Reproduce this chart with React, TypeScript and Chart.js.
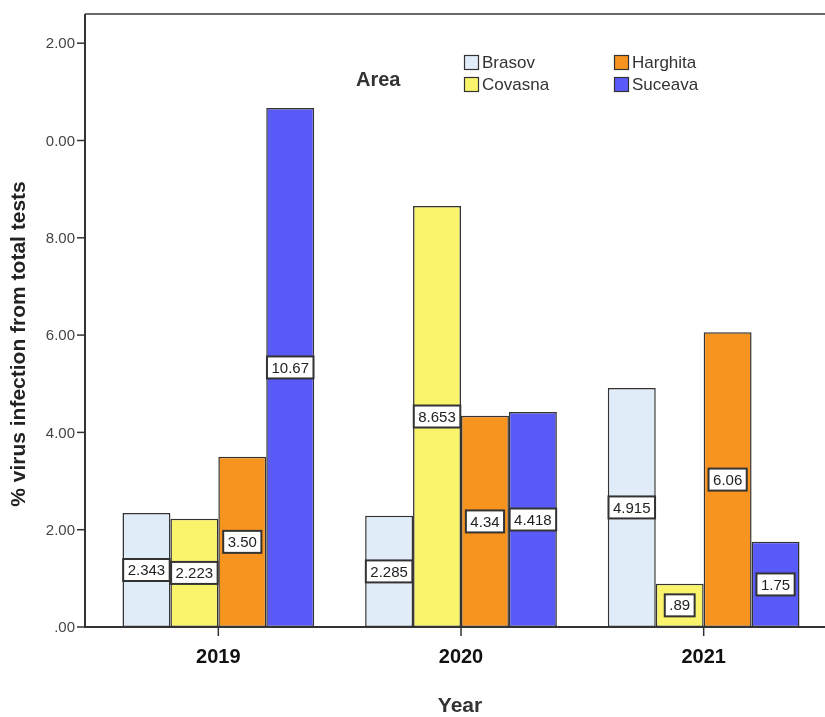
import React, { useEffect, useRef } from "react";
import { Chart, registerables } from "chart.js";

Chart.register(...registerables);

const years = ["2019", "2020", "2021"];
const areaNames = ["Brasov", "Covasna", "Harghita", "Suceava"];
const brasovValues = [2.343, 2.285, 4.915];
const covasnaValues = [2.223, 8.653, 0.89];
const harghitaValues = [3.5, 4.34, 6.06];
const suceavaValues = [10.67, 4.418, 1.75];
const brasovLabels = ["2.343", "2.285", "4.915"];
const covasnaLabels = ["2.223", "8.653", ".89"];
const harghitaLabels = ["3.50", "4.34", "6.06"];
const suceavaLabels = ["10.67", "4.418", "1.75"];
const yTickValues = [0, 2, 4, 6, 8, 10, 12];
const yTickLabels = [".00", "2.00", "4.00", "6.00", "8.00", "0.00", "2.00"];

const fills = ["#e1ecf9", "#f9f46c", "#f7931f", "#5a5af8"];
const FONT = "Arial, 'Liberation Sans', sans-serif";

export default function App() {
  const ref = useRef<HTMLCanvasElement | null>(null);

  useEffect(() => {
    document.body.style.margin = "0";
    const canvas = ref.current;
    if (!canvas) return;
    const valueSets = [brasovValues, covasnaValues, harghitaValues, suceavaValues];
    const labelSets = [brasovLabels, covasnaLabels, harghitaLabels, suceavaLabels];

    const spssPlugin = {
      id: "spss",
      afterDatasetsDraw(chart: any) {
        const ctx = chart.ctx;
        const ca = chart.chartArea;
        const ys = chart.scales.y;
        const xs = chart.scales.x;
        const axisX = 85;
        ctx.save();
        // frame
        ctx.strokeStyle = "#6a6a6a";
        ctx.lineWidth = 2;
        ctx.beginPath();
        ctx.moveTo(axisX, ca.top);
        ctx.lineTo(chart.width, ca.top);
        ctx.stroke();
        ctx.strokeStyle = "#333";
        ctx.beginPath();
        ctx.moveTo(axisX, ca.top);
        ctx.lineTo(axisX, ca.bottom);
        ctx.lineTo(chart.width, ca.bottom);
        ctx.stroke();
        // y ticks
        ctx.lineWidth = 1.5;
        ctx.fillStyle = "#444";
        ctx.font = `15px ${FONT}`;
        ctx.textAlign = "right";
        ctx.textBaseline = "middle";
        yTickValues.forEach((v, i) => {
          const py = ys.getPixelForValue(v);
          ctx.beginPath();
          ctx.moveTo(axisX - 8, py);
          ctx.lineTo(axisX, py);
          ctx.stroke();
          ctx.fillText(yTickLabels[i], axisX - 10, py + 1);
        });
        // x ticks
        ctx.fillStyle = "#111";
        ctx.font = `bold 20px ${FONT}`;
        ctx.textAlign = "center";
        years.forEach((yr, i) => {
          const px = xs.getPixelForValue(i);
          ctx.beginPath();
          ctx.moveTo(px, ca.bottom);
          ctx.lineTo(px, ca.bottom + 9);
          ctx.stroke();
          ctx.fillText(yr, px, 657);
        });
        // axis titles
        ctx.fillStyle = "#333";
        ctx.font = `bold 21px ${FONT}`;
        ctx.fillText("Year", 460, 706);
        ctx.save();
        ctx.translate(19, 344);
        ctx.rotate(-Math.PI / 2);
        ctx.fillStyle = "#222";
        ctx.fillText("% virus infection from total tests", 0, 0);
        ctx.restore();
        // legend
        ctx.fillStyle = "#333";
        ctx.font = `bold 20px ${FONT}`;
        ctx.textAlign = "left";
        ctx.fillText("Area", 356, 80);
        ctx.font = `17px ${FONT}`;
        const legPos = [
          [464, 55],
          [464, 77],
          [614, 55],
          [614, 77],
        ];
        chart.data.datasets.forEach((ds: any, i: number) => {
          const [lx, ly] = legPos[i];
          ctx.fillStyle = ds.backgroundColor;
          ctx.fillRect(lx, ly, 15, 15);
          ctx.strokeStyle = "#333";
          ctx.lineWidth = 1.2;
          ctx.strokeRect(lx + 0.5, ly + 0.5, 14, 14);
          ctx.fillStyle = "#333";
          ctx.fillText(ds.label, lx + 18, ly + 8);
        });
        // data labels
        ctx.font = `15px ${FONT}`;
        ctx.textAlign = "center";
        chart.data.datasets.forEach((ds: any, di: number) => {
          const meta = chart.getDatasetMeta(di);
          meta.data.forEach((bar: any, i: number) => {
            const txt = labelSets[di][i];
            const cy = (bar.y + bar.base) / 2;
            const w = ctx.measureText(txt).width + 9;
            const h = 22;
            ctx.fillStyle = "#fff";
            ctx.fillRect(bar.x - w / 2, cy - h / 2, w, h);
            ctx.strokeStyle = "#333";
            ctx.lineWidth = 2;
            ctx.strokeRect(bar.x - w / 2, cy - h / 2, w, h);
            ctx.fillStyle = "#222";
            ctx.fillText(txt, bar.x, cy + 1);
          });
        });
        ctx.restore();
      },
    };

    const chart = new Chart(canvas, {
      type: "bar",
      data: {
        labels: years,
        datasets: areaNames.map((name, i) => ({
          label: name,
          data: valueSets[i],
          backgroundColor: fills[i],
          borderColor: "#333",
          borderWidth: 1.5,
          borderSkipped: false,
          categoryPercentage: 0.79,
          barPercentage: 1,
        })),
      },
      options: {
        responsive: false,
        animation: false,
        layout: { padding: { left: 97, right: 0, top: 14, bottom: 90 } },
        scales: {
          x: { display: false },
          y: { display: false, min: 0, max: 12.6 },
        },
        plugins: { legend: { display: false }, tooltip: { enabled: false } },
      },
      plugins: [spssPlugin],
    });
    return () => chart.destroy();
  }, []);

  return (
    <div style={{ width: 825, height: 717, background: "#fff" }}>
      <canvas ref={ref} width={825} height={717} style={{ display: "block" }} />
    </div>
  );
}
